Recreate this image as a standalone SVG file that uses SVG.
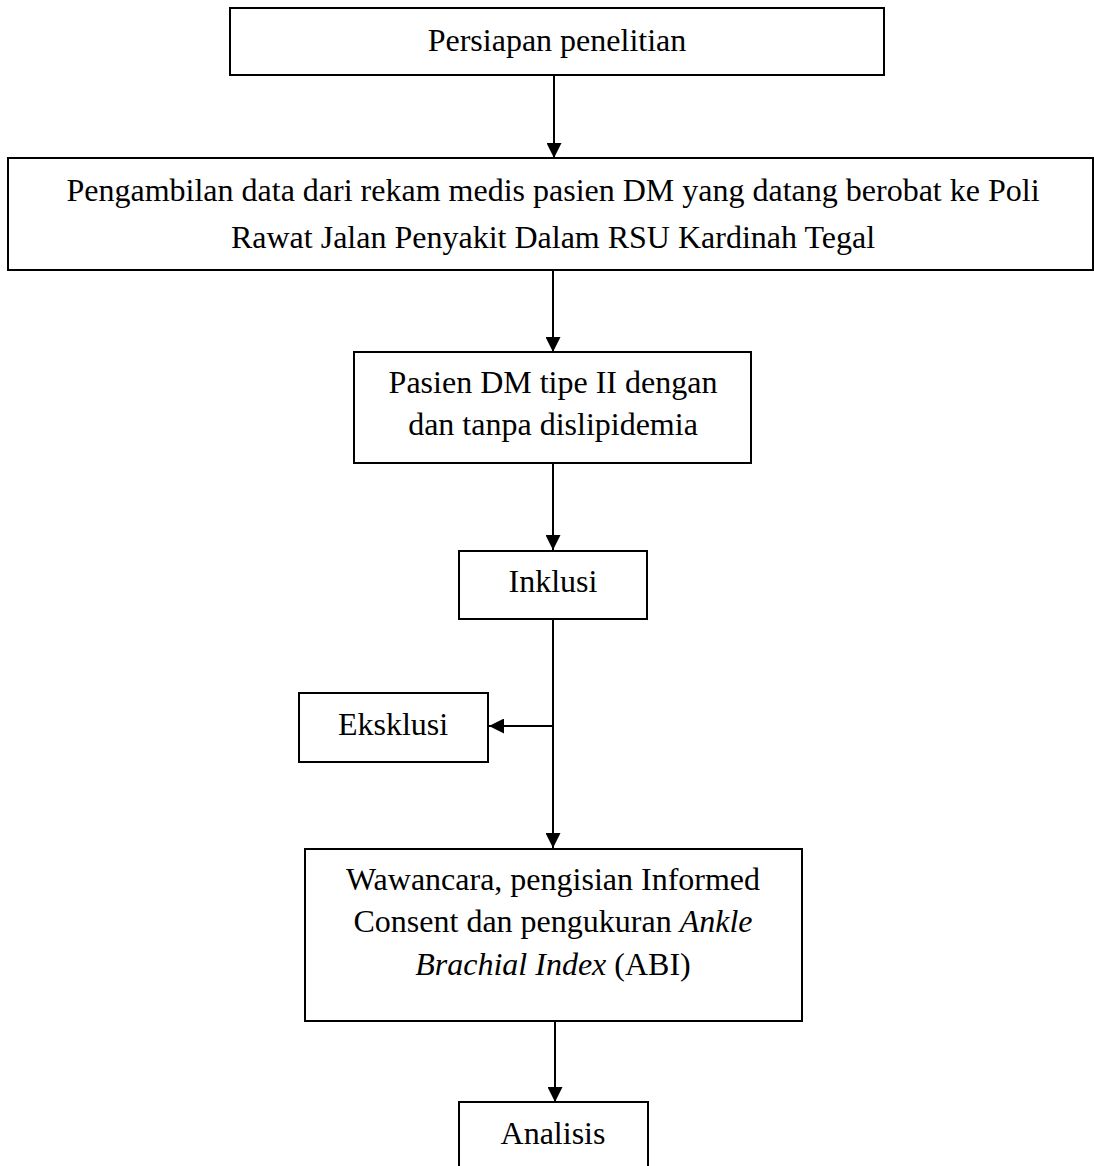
<svg xmlns="http://www.w3.org/2000/svg" width="1094" height="1166" viewBox="0 0 1094 1166">
<style>
.box{fill:#fff;stroke:#000;stroke-width:2}
.t{font-family:"Liberation Serif","Times New Roman",serif;font-size:32px;fill:#000;text-anchor:middle}
.c{stroke:#000;stroke-width:2;fill:none}
</style>
<defs>
<marker id="ah" markerWidth="15" markerHeight="15" refX="15" refY="7.5" orient="auto" markerUnits="userSpaceOnUse">
<path d="M0,0 L15,7.5 L0,15 Z" fill="#000"/>
</marker>
</defs>
<rect width="1094" height="1166" fill="#fff"/>
<g id="connectors">
<line class="c" x1="554" y1="75" x2="554" y2="158" marker-end="url(#ah)"/>
<line class="c" x1="553" y1="270" x2="553" y2="352" marker-end="url(#ah)"/>
<line class="c" x1="553" y1="464" x2="553" y2="550" marker-end="url(#ah)"/>
<line class="c" x1="553" y1="619" x2="553" y2="848" marker-end="url(#ah)"/>
<line class="c" x1="553" y1="726" x2="489" y2="726" marker-end="url(#ah)"/>
<line class="c" x1="555" y1="1021" x2="555" y2="1102" marker-end="url(#ah)"/>
</g>
<g id="n1">
<rect class="box" x="230" y="8" width="654" height="67"/>
<text class="t" x="557" y="51">Persiapan penelitian</text>
</g>
<g id="n2">
<rect class="box" x="8" y="158" width="1085" height="112"/>
<text class="t" x="553" y="201">Pengambilan data dari rekam medis pasien DM yang datang berobat ke Poli</text>
<text class="t" x="553" y="248">Rawat Jalan Penyakit Dalam RSU Kardinah Tegal</text>
</g>
<g id="n3">
<rect class="box" x="354" y="352" width="397" height="111"/>
<text class="t" x="553" y="393">Pasien DM tipe II dengan</text>
<text class="t" x="553" y="435">dan tanpa dislipidemia</text>
</g>
<g id="n4">
<rect class="box" x="459" y="551" width="188" height="68"/>
<text class="t" x="553" y="592">Inklusi</text>
</g>
<g id="n5">
<rect class="box" x="299" y="693" width="189" height="69"/>
<text class="t" x="393" y="735">Eksklusi</text>
</g>
<g id="n6">
<rect class="box" x="305" y="849" width="497" height="172"/>
<text class="t" x="553" y="890">Wawancara, pengisian Informed</text>
<text class="t" x="553" y="932">Consent dan pengukuran <tspan font-style="italic">Ankle</tspan></text>
<text class="t" x="553" y="975"><tspan font-style="italic">Brachial Index</tspan> (ABI)</text>
</g>
<g id="n7">
<rect class="box" x="459" y="1102" width="189" height="80"/>
<text class="t" x="553" y="1144">Analisis</text>
</g>
</svg>
